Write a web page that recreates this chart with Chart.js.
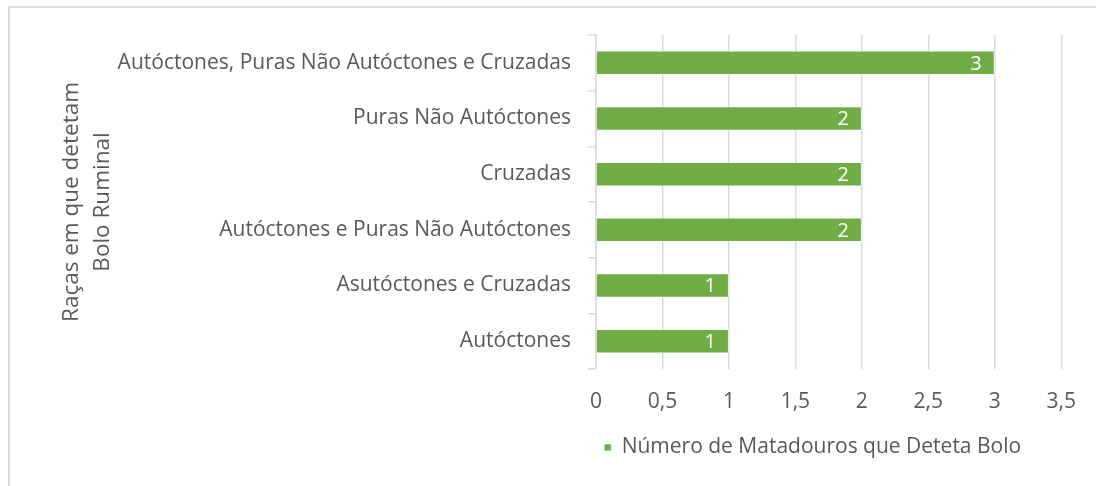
<!DOCTYPE html>
<html>
<head>
<meta charset="utf-8">
<script src="https://cdn.jsdelivr.net/npm/chart.js@4.4.1/dist/chart.umd.min.js"></script>
<style>
  html, body { margin: 0; padding: 0; background: #fff; }
  #frame {
    position: absolute; left: 8px; top: 6px; right: 0; bottom: 0;
    border-left: 2px solid #d9d9d9; border-top: 2px solid #d9d9d9;
  }
  #wrap { position: absolute; left: 0; top: 0; width: 1096px; height: 486px; }
</style>
</head>
<body>
<div id="frame"></div>
<div id="wrap"><canvas id="chart"></canvas></div>
<script>
// breeds, top to bottom
const categories = [
  'Autóctones, Puras Não Autóctones e Cruzadas',
  'Puras Não Autóctones',
  'Cruzadas',
  'Autóctones e Puras Não Autóctones',
  'Asutóctones e Cruzadas',
  'Autóctones'
];
const abattoirCounts = [3, 2, 2, 2, 1, 1];
const seriesName = 'Número de Matadouros que Deteta Bolo';
const axisTitle = ['Raças em que detetam', 'Bolo Ruminal'];

const FONT = '"Open Sans", "DejaVu Sans", sans-serif';
const GREY = '#595959';
const GRID = '#d9d9d9';
const GREEN = '#70ad47';

// writes each value inside the end of its bar
const barValues = {
  id: 'barValues',
  afterDatasetsDraw(chart) {
    const ctx = chart.ctx;
    const meta = chart.getDatasetMeta(0);
    ctx.save();
    ctx.fillStyle = '#ffffff';
    ctx.font = '20px ' + FONT;
    ctx.textAlign = 'right';
    ctx.textBaseline = 'middle';
    meta.data.forEach((bar, i) => {
      ctx.fillText(String(abattoirCounts[i]), bar.x - 13, bar.y + 1);
    });
    ctx.restore();
  }
};

// nudge the legend a little left of the plot centre
const legendShift = {
  id: 'legendShift',
  afterLayout(chart) {
    if (chart.legend) {
      chart.legend.left -= 16;
      chart.legend.right -= 16;
    }
  }
};

new Chart(document.getElementById('chart'), {
  type: 'bar',
  data: {
    labels: categories,
    datasets: [{
      label: seriesName,
      data: abattoirCounts,
      backgroundColor: GREEN,
      borderColor: 'rgba(255,255,255,0.6)',
      borderWidth: 1,
      barPercentage: 0.44,
      categoryPercentage: 1
    }]
  },
  options: {
    indexAxis: 'y',
    responsive: true,
    maintainAspectRatio: false,
    animation: false,
    layout: { padding: { left: 40, top: 35, right: 32, bottom: 18 } },
    plugins: {
      legend: {
        position: 'bottom',
        fullSize: false,
        labels: {
          boxWidth: 7, boxHeight: 7, padding: 15,
          color: GREY,
          font: { family: FONT, size: 21 }
        }
      },
      tooltip: { enabled: false }
    },
    scales: {
      x: {
        min: 0, max: 3.5,
        afterFit(scale) { scale.height = 53; },
        ticks: {
          stepSize: 0.5,
          padding: 20,
          color: GREY,
          font: { family: FONT, size: 21 },
          callback: v => String(v).replace('.', ',')
        },
        grid: { color: GRID, lineWidth: 1.5, drawTicks: false },
        border: { display: false }
      },
      y: {
        afterFit(scale) { scale.width = 556; },
        ticks: {
          padding: 17,
          color: GREY,
          font: { family: FONT, size: 21 }
        },
        grid: { drawOnChartArea: false, color: GRID, lineWidth: 1.5, tickLength: 8 },
        border: { display: true, color: GRID, width: 1.5 },
        title: {
          display: true,
          text: axisTitle,
          color: GREY,
          padding: { top: 16, bottom: 0 },
          font: { family: FONT, size: 22.5, lineHeight: 1.38 }
        }
      }
    }
  },
  plugins: [barValues, legendShift]
});
</script>
</body>
</html>
